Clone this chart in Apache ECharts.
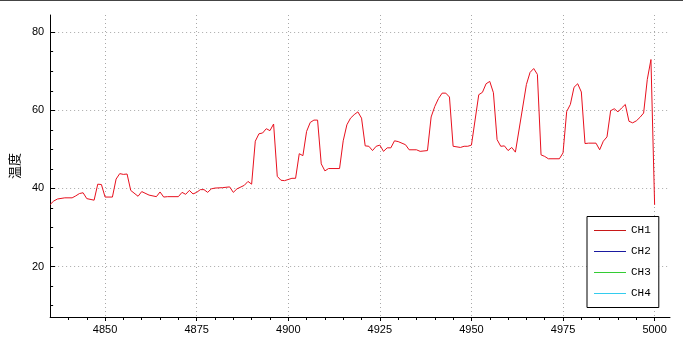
<!DOCTYPE html>
<html><head><meta charset="utf-8">
<script src="https://cdn.jsdelivr.net/npm/echarts@6/dist/echarts.min.js"></script>
<style>html,body{margin:0;padding:0;background:#fff}#c{width:683px;height:343px}</style>
</head><body><div id="c"></div><script>
const xValues = [4835,4836,4837,4839,4841,4842,4843,4844,4845,4847,4848,4849,4850,4852,4853,4854,4855,4856,4857,4859,4860,4862,4864,4865,4866,4867,4870,4871,4872,4873,4874,4875,4876,4877,4878,4879,4880,4882,4884,4885,4886,4888,4889,4890,4891,4892,4893,4894,4895,4896,4897,4898,4899,4901,4902,4903,4904,4905,4906,4907,4908,4909,4910,4911,4914,4915,4916,4917,4918,4919,4920,4921,4922,4923,4924,4925,4926,4927,4928,4929,4930,4932,4933,4935,4936,4938,4939,4940,4941,4942,4943,4944,4945,4947,4948,4949,4950,4952,4953,4954,4955,4956,4957,4958,4959,4960,4961,4962,4965,4966,4967,4968,4969,4970,4971,4974,4975,4976,4977,4978,4979,4980,4981,4982,4984,4985,4986,4987,4988,4989,4990,4991,4992,4993,4994,4995,4996,4997,4998,4999,5000];
const ch1Values = [35.9,36.8,37.3,37.6,37.6,38.1,38.7,38.9,37.4,37.0,41.1,41.0,37.8,37.8,42.4,43.8,43.6,43.7,39.5,38.0,39.2,38.3,37.9,39.1,37.8,37.9,37.9,39.0,38.5,39.5,38.6,39.0,39.7,39.7,39.0,39.9,40.1,40.2,40.4,39.0,39.9,40.8,41.8,41.1,52.1,54.0,54.2,55.3,54.8,56.5,43.1,42.1,42.0,42.6,42.6,48.9,48.4,54.6,56.9,57.5,57.5,46.3,44.5,45.1,45.1,52.2,56.3,58.0,58.9,59.6,58.0,50.9,50.8,49.7,50.8,51.1,49.5,50.4,50.4,52.2,52.0,51.2,49.9,49.9,49.5,49.7,58.3,61.0,63.0,64.4,64.4,63.4,50.8,50.5,50.8,50.8,51.1,64.0,64.6,66.8,67.4,64.5,52.5,50.8,50.9,49.7,50.5,49.3,66.6,69.7,70.7,69.2,48.6,48.2,47.6,47.6,49.1,59.7,61.5,65.9,66.8,64.7,51.5,51.6,51.6,49.9,52.1,53.2,59.9,60.4,59.6,60.6,61.5,57.2,56.8,57.3,58.2,59.3,67.9,73.0,35.8];
const seriesNames = ['CH1','CH2','CH3','CH4'];
const seriesColors = ['#e8101e','#1a1aa0','#33cc33','#33ccee'];
const legendColors = ['#c81818','#1a1aa0','#33cc33','#33ccee'];
const xMajorTicks = [4850,4875,4900,4925,4950,4975,5000];
const xMinorTicks = [4840,4845,4855,4860,4865,4870,4880,4885,4890,4895,4905,4910,4915,4920,4930,4935,4940,4945,4955,4960,4965,4970,4980,4985,4990,4995];
const yMajorTicks = [20,40,60,80];
const yMinorTicks = [10,15,25,30,35,45,50,55,65,70,75];
const yName = '温度';

const XMIN = 4835, XMAX = 5004.2, YMIN = 7.1, YMAX = 84.4;
const labelFont = {color:'#000', fontFamily:'Liberation Sans', fontSize:11};

const chart = echarts.init(document.getElementById('c'), null, {renderer:'canvas'});
const series = seriesNames.map((n,i)=>({
  name:n, type:'line', xAxisIndex:0, yAxisIndex:0,
  data: i===0 ? xValues.map((x,k)=>[x, ch1Values[k]]) : [],
  showSymbol:false, symbol:'none', animation:false,
  lineStyle:{color:seriesColors[i], width:1},
  itemStyle:{color:seriesColors[i]}
}));
chart.setOption({
  animation:false,
  backgroundColor:'#fff',
  graphic:[{type:'rect', shape:{x:0,y:0,width:683,height:1}, style:{fill:'#444'}}],
  grid:{left:45, top:15, right:13, bottom:26, containLabel:false},
  legend:{
    orient:'vertical', left:587, top:216.5,
    data: seriesNames.map((n,i)=>({name:n, itemStyle:{color:legendColors[i]}})),
    icon:'rect', itemWidth:32, itemHeight:1, itemGap:7,
    padding:[7,8,7,7], borderColor:'#000', borderWidth:1, backgroundColor:'#fff',
    textStyle:{fontFamily:'Liberation Mono', fontSize:11, color:'#000', lineHeight:14},
    selectedMode:false
  },
  xAxis:[{
    type:'value', min:XMIN, max:XMAX, position:'bottom',
    axisLine:{show:true, lineStyle:{color:'#000', width:1}},
    axisTick:{show:true, inside:false, length:4, customValues:xMajorTicks, lineStyle:{color:'#000'}},
    axisLabel:{show:true, customValues:xMajorTicks, margin:7, formatter:v=>String(v), ...labelFont},
    splitLine:{show:true, lineStyle:{color:'#a8a8a8', type:[1,3], width:1}}
  },{
    type:'value', min:XMIN, max:XMAX, position:'bottom',
    axisLine:{show:false},
    axisTick:{show:true, inside:false, length:3, customValues:xMinorTicks, lineStyle:{color:'#000'}},
    axisLabel:{show:false}, splitLine:{show:false}
  }],
  yAxis:[{
    type:'value', min:YMIN, max:YMAX, position:'left',
    name:yName, nameLocation:'middle', nameGap:25, nameRotate:90,
    nameTextStyle:{fontFamily:'Noto Sans CJK SC', fontSize:13, color:'#000'},
    axisLine:{show:true, lineStyle:{color:'#000', width:1}},
    axisTick:{show:true, inside:true, length:5, customValues:yMajorTicks, lineStyle:{color:'#000'}},
    axisLabel:{show:true, customValues:yMajorTicks, margin:6, formatter:v=>String(v), ...labelFont},
    splitLine:{show:true, lineStyle:{color:'#a8a8a8', type:[1,3], width:1}}
  },{
    type:'value', min:YMIN, max:YMAX, position:'left',
    axisLine:{show:false},
    axisTick:{show:true, inside:true, length:3, customValues:yMinorTicks, lineStyle:{color:'#000'}},
    axisLabel:{show:false}, splitLine:{show:false}
  }],
  series: series
});
</script></body></html>
